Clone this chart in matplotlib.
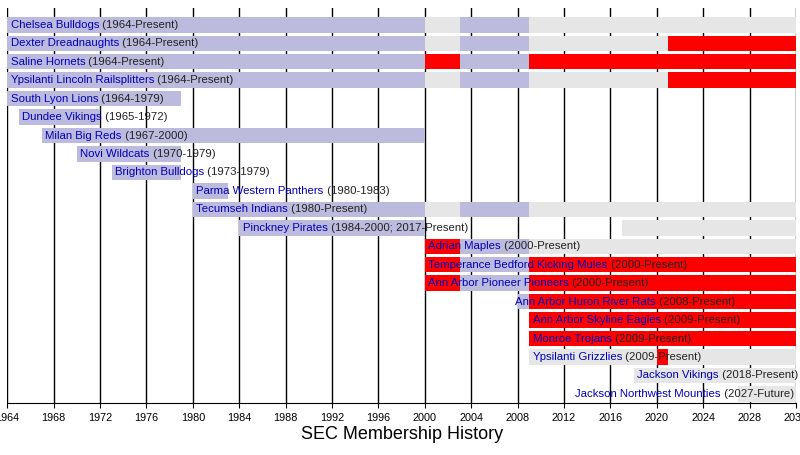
import matplotlib.pyplot as plt
from matplotlib.transforms import offset_copy

BLUE = '#bdbbdd'
GRAY = '#e6e6e6'
RED = '#ff0000'

teams = ['Chelsea Bulldogs', 'Dexter Dreadnaughts', 'Saline Hornets', 'Ypsilanti Lincoln Railsplitters',
         'South Lyon Lions', 'Dundee Vikings', 'Milan Big Reds', 'Novi Wildcats', 'Brighton Bulldogs',
         'Parma Western Panthers', 'Tecumseh Indians', 'Pinckney Pirates', 'Adrian Maples',
         'Temperance Bedford Kicking Mules', 'Ann Arbor Pioneer Pioneers', 'Ann Arbor Huron River Rats',
         'Ann Arbor Skyline Eagles', 'Monroe Trojans', 'Ypsilanti Grizzlies', 'Jackson Vikings',
         'Jackson Northwest Mounties']
years = ['(1964-Present)', '(1964-Present)', '(1964-Present)', '(1964-Present)', '(1964-1979)',
         '(1965-1972)', '(1967-2000)', '(1970-1979)', '(1973-1979)', '(1980-1983)', '(1980-Present)',
         '(1984-2000; 2017-Present)', '(2000-Present)', '(2000-Present)', '(2000-Present)',
         '(2008-Present)', '(2009-Present)', '(2009-Present)', '(2009-Present)', '(2018-Present)',
         '(2027-Future)']
# (start, end, colour) for every stretch of membership
periods = [
    [(1964, 2000, BLUE), (2000, 2003, GRAY), (2003, 2009, BLUE), (2009, 2032, GRAY)],
    [(1964, 2000, BLUE), (2000, 2003, GRAY), (2003, 2009, BLUE), (2009, 2021, GRAY), (2021, 2032, RED)],
    [(1964, 2000, BLUE), (2000, 2003, RED), (2003, 2009, BLUE), (2009, 2032, RED)],
    [(1964, 2000, BLUE), (2000, 2003, GRAY), (2003, 2009, BLUE), (2009, 2021, GRAY), (2021, 2032, RED)],
    [(1964, 1979, BLUE)],
    [(1965, 1972, BLUE)],
    [(1967, 2000, BLUE)],
    [(1970, 1979, BLUE)],
    [(1973, 1979, BLUE)],
    [(1980, 1983, BLUE)],
    [(1980, 2000, BLUE), (2000, 2003, GRAY), (2003, 2009, BLUE), (2009, 2032, GRAY)],
    [(1984, 2000, BLUE), (2017, 2032, GRAY)],
    [(2000, 2003, RED), (2003, 2009, BLUE), (2009, 2032, GRAY)],
    [(2000, 2003, RED), (2003, 2009, BLUE), (2009, 2032, RED)],
    [(2000, 2003, RED), (2003, 2009, BLUE), (2009, 2032, RED)],
    [(2008, 2009, BLUE), (2009, 2032, RED)],
    [(2009, 2032, RED)],
    [(2009, 2032, RED)],
    [(2009, 2020, GRAY), (2020, 2021, RED), (2021, 2032, GRAY)],
    [(2018, 2032, GRAY)],
    [(2027, 2032, GRAY)],
]
label_x = [1964.3, 1964.3, 1964.3, 1964.3, 1964.3, 1965.3, 1967.3, 1970.3, 1973.3, 1980.3, 1980.3,
           1984.3, 2000.3, 2000.3, 2000.3, 2007.8, 2009.3, 2009.3, 2009.3, 2018.3, None]  # None: flush right

plt.rcParams['font.family'] = ['Liberation Sans', 'DejaVu Sans']
fig = plt.figure(figsize=(8, 4.55), dpi=100)
ax = plt.axes([0.009, 0.114, 0.986, 0.868])

for x in range(1964, 2033, 4):
    plt.axvline(x, color='black', lw=1, zorder=0)

for i, segs in enumerate(periods):
    for start, end, col in segs:
        plt.barh(i, end - start, left=start, height=0.84, color=col, zorder=1)

plt.xlim(1964, 2032)
plt.ylim(len(teams) - 0.5, -0.9)

fig.canvas.draw()
renderer = fig.canvas.get_renderer()
for i, name in enumerate(teams):
    t = plt.text(2000, i, name, color='#0000bb', fontsize=8.2, va='center', zorder=3)
    y = plt.text(2000, i, ' ' + years[i], color='#222222', fontsize=8.2, va='center', zorder=3)
    w = t.get_window_extent(renderer).width
    x0 = label_x[i]
    if x0 is None:
        total = w + y.get_window_extent(renderer).width
        right = ax.transData.transform((2031.8, 0))[0]
        x0 = ax.transData.inverted().transform((right - total, 0))[0]
    t.set_x(x0)
    y.set_x(x0)
    y.set_transform(offset_copy(ax.transData, fig=fig, x=w, y=0, units='dots'))

plt.xticks(range(1964, 2033, 4), [str(x) for x in range(1964, 2033, 4)], fontsize=7.8)
plt.yticks([])
for side in ['top', 'right', 'left']:
    ax.spines[side].set_visible(False)
plt.xlabel('SEC Membership History', fontsize=13, labelpad=2)

plt.savefig('out.png')
